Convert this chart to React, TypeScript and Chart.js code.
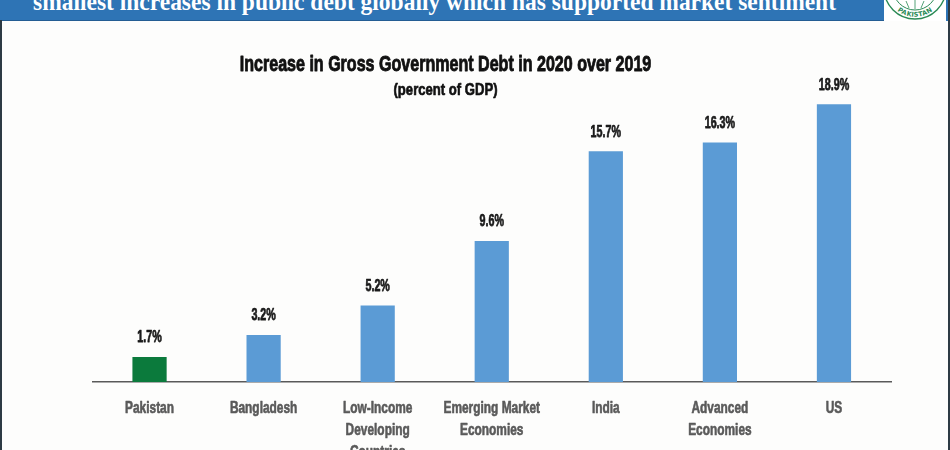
import React, { useEffect, useRef } from "react";
import { Chart, registerables } from "chart.js";

Chart.register(...registerables);

// Increase in gross government debt, 2020 vs 2019 (percent of GDP)
const categories: string[][] = [
  ["Pakistan"],
  ["Bangladesh"],
  ["Low-Income", "Developing", "Countries"],
  ["Emerging Market", "Economies"],
  ["India"],
  ["Advanced", "Economies"],
  ["US"],
];
const debtIncrease: number[] = [1.7, 3.2, 5.2, 9.6, 15.7, 16.3, 18.9];
const highlighted = "Pakistan";

const chartTitle = "Increase in Gross Government Debt in 2020 over 2019";
const chartSubtitle = "(percent of GDP)";
const bannerText =
  "smallest increases in public debt globally which has supported market sentiment";

const FONT = "'Liberation Sans', Arial, sans-serif";
const GREEN = "#0b7a3c";
const BLUE = "#5b9bd5";
const BANNER_BLUE = "#2e74b5";

// Heavy, horizontally condensed lettering
function condensedText(
  ctx: CanvasRenderingContext2D,
  text: string,
  x: number,
  y: number,
  font: string,
  color: string,
  squeeze: number,
  weight: number
) {
  ctx.save();
  ctx.font = font;
  ctx.fillStyle = color;
  ctx.strokeStyle = color;
  ctx.lineWidth = weight;
  ctx.lineJoin = "round";
  ctx.textAlign = "center";
  ctx.textBaseline = "middle";
  ctx.translate(x, y);
  ctx.scale(squeeze, 1);
  ctx.fillText(text, 0, 0);
  if (weight > 0) ctx.strokeText(text, 0, 0);
  ctx.restore();
}

// Titles, value labels above bars and multi-line category labels
const textLayer = {
  id: "textLayer",
  afterDraw(chart: any) {
    const ctx = chart.ctx as CanvasRenderingContext2D;
    const area = chart.chartArea;
    const titleX = area.right / 2;
    condensedText(ctx, chartTitle, titleX, 65, `bold 22px ${FONT}`, "#111111", 0.73, 0.9);
    condensedText(ctx, chartSubtitle, titleX, 90, `bold 17px ${FONT}`, "#111111", 0.77, 0.7);

    const meta = chart.getDatasetMeta(0);
    meta.data.forEach((bar: any, i: number) => {
      condensedText(
        ctx,
        `${debtIncrease[i].toFixed(1)}%`,
        bar.x,
        bar.y - 19,
        `bold 16px ${FONT}`,
        "#1a1a1a",
        0.67,
        0.75
      );
    });

    const xScale = chart.scales.x;
    categories.forEach((lines, i) => {
      const cx = xScale.getPixelForTick(i);
      lines.forEach((line, j) => {
        condensedText(
          ctx,
          line,
          cx,
          area.bottom + 26 + j * 22,
          `bold 17px ${FONT}`,
          "#5a5a5a",
          0.7,
          0.65
        );
      });
    });
  },
};

function DebtChart() {
  const canvasRef = useRef<HTMLCanvasElement | null>(null);

  useEffect(() => {
    if (!canvasRef.current) return;
    const chart = new Chart(canvasRef.current, {
      type: "bar",
      data: {
        labels: categories,
        datasets: [
          {
            data: debtIncrease,
            backgroundColor: categories.map((c) =>
              c[0] === highlighted ? GREEN : BLUE
            ),
            borderWidth: 0,
            categoryPercentage: 1,
            barPercentage: 0.3,
          },
        ],
      },
      options: {
        responsive: false,
        animation: false,
        layout: { padding: { left: 92.5, right: 59, top: 102.7, bottom: 68 } },
        plugins: {
          legend: { display: false },
          tooltip: { enabled: false },
          title: { display: false },
        },
        scales: {
          x: {
            grid: { display: false, drawTicks: false },
            border: { display: true, color: "#5a5a5a", width: 1.5 },
            ticks: { display: false },
          },
          y: { display: false, min: 0, max: 19 },
        },
      },
      plugins: [textLayer],
    });
    return () => chart.destroy();
  }, []);

  return (
    <canvas
      ref={canvasRef}
      width={950}
      height={450}
      style={{ position: "absolute", left: 0, top: 0, width: 950, height: 450 }}
    />
  );
}

function Banner() {
  return (
    <svg
      width={950}
      height={22}
      style={{ position: "absolute", left: 0, top: 0 }}
    >
      <rect x={0} y={0} width={950} height={21} fill={BANNER_BLUE} />
      <rect x={0} y={20} width={884} height={1} fill="#245d93" />
      <text
        x={33}
        y={10}
        fill="#ffffff"
        fontFamily="'Liberation Serif', 'DejaVu Serif', serif"
        fontWeight="bold"
        fontSize={25}
        textLength={803}
        lengthAdjust="spacingAndGlyphs"
      >
        {bannerText}
      </text>
      {/* state bank seal */}
      <rect x={884} y={0} width={62} height={21} fill="#ffffff" />
      <defs>
        <path id="sealArc" d="M 888 -12 A 27 27 0 0 0 942 -12" />
      </defs>
      <circle cx={915} cy={-12} r={31} fill="none" stroke="#2a8a55" strokeWidth={1.4} />
      <circle cx={915} cy={-12} r={22} fill="none" stroke="#2a8a55" strokeWidth={1} />
      <text fill="#2a8a55" fontFamily="'DejaVu Sans', sans-serif" fontWeight="bold" fontSize={6.5}>
        <textPath href="#sealArc" startOffset="50%" textAnchor="middle" dominantBaseline="middle">
          PAKISTAN
        </textPath>
      </text>
      <path d="M 906 1 L 909 8 M 915 0 L 915 9 M 924 1 L 921 8" stroke="#2a8a55" strokeWidth={0.8} />
    </svg>
  );
}

export default function App() {
  useEffect(() => {
    document.body.style.margin = "0";
  }, []);
  return (
    <div
      style={{
        position: "relative",
        width: 950,
        height: 450,
        overflow: "hidden",
        background: "#fdfdfc",
      }}
    >
      <DebtChart />
      <Banner />
      <div style={{ position: "absolute", left: 0, top: 20, width: 2, height: 430, background: "#2d3a44" }} />
      <div style={{ position: "absolute", left: 948, top: 0, width: 2, height: 450, background: "#2d3a44" }} />
    </div>
  );
}
